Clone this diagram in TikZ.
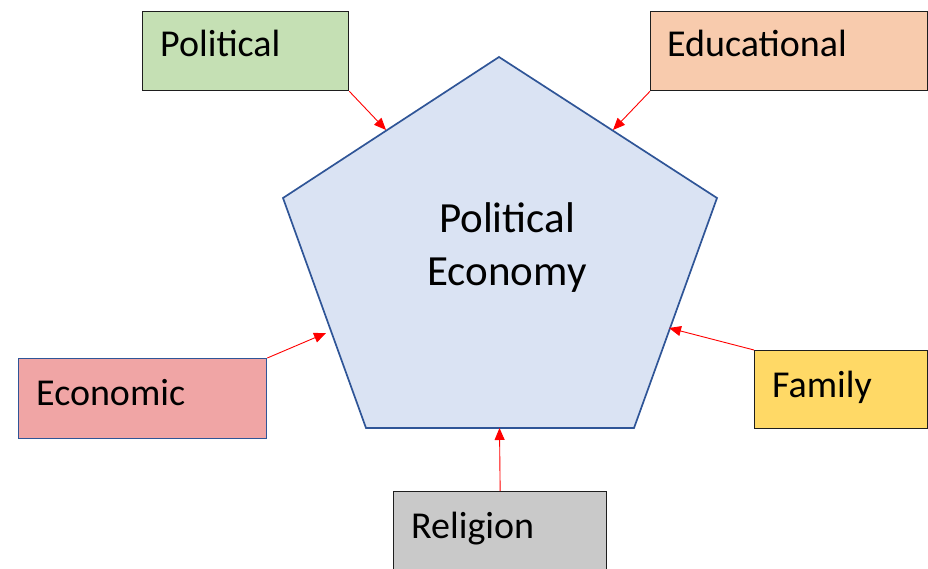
\documentclass[tikz,border=0pt]{standalone}
\usepackage{fontspec}
\setmainfont{Carlito}
\usetikzlibrary{arrows.meta}
\definecolor{pentfill}{HTML}{DAE3F3}
\definecolor{pentline}{HTML}{2F5597}
\definecolor{polfill}{HTML}{C5E0B4}
\definecolor{edufill}{HTML}{F8CBAD}
\definecolor{ecofill}{HTML}{F0A5A5}
\definecolor{famfill}{HTML}{FFD966}
\definecolor{relfill}{HTML}{C9C9C9}
\definecolor{boxline}{HTML}{1E1E1E}
\begin{document}
\begin{tikzpicture}[x=1pt,y=-1pt,
  boxstyle/.style={draw=boxline, line width=1.3pt, anchor=north west, inner sep=0pt, rectangle},
  lbl/.style={anchor=base west, inner sep=0pt, font=\fontsize{38}{46}\selectfont},
  arr/.style={draw=red, line width=0.9pt, -{Triangle[length=12pt,width=10pt]}}]
\useasboundingbox (0,0) rectangle (928,569);
\clip (0,0) rectangle (928,569);
% pentagon
\coordinate (pt) at (499,57);
\coordinate (pur) at (717,198);
\coordinate (plr) at (634,428);
\coordinate (pll) at (366,428);
\coordinate (pul) at (283,198);
\draw[fill=pentfill, draw=pentline, line width=1.7pt, line join=miter]
  (pt) -- (pur) -- (plr) -- (pll) -- (pul) -- cycle;
\node[align=center, inner sep=0pt, font=\fontsize{43}{53}\selectfont] (pe) at (507,248) {Political\\Economy};
% arrow targets on the pentagon edges
\coordinate (tpol) at (386,130);
\coordinate (tedu) at (613,130);
\coordinate (teco) at (326,333);
\coordinate (tfam) at (669,328);
\coordinate (trel) at (499.5,428);
% boxes
\node[boxstyle, fill=polfill, minimum width=206pt, minimum height=79pt] (pol) at (142,11) {};
\node[lbl] (polt) at (160,57) {Political};
\node[boxstyle, fill=edufill, minimum width=277pt, minimum height=79pt] (edu) at (650,11) {};
\node[lbl] (edut) at (667,57) {Educational};
\node[boxstyle, draw=pentline, fill=ecofill, minimum width=248pt, minimum height=80pt] (eco) at (18,358) {};
\node[lbl] (ecot) at (36,405) {Economic};
\node[boxstyle, fill=famfill, minimum width=173pt, minimum height=78pt] (fam) at (754,350) {};
\node[lbl] (famt) at (772,397) {Family};
\node[boxstyle, fill=relfill, minimum width=213pt, minimum height=85pt] (rel) at (393,491) {};
\node[lbl] (relt) at (411,538) {Religion};
% connectors
\draw[arr] (pol.south east) -- (tpol);
\draw[arr] (edu.south west) -- (tedu);
\draw[arr] (eco.north east) -- (teco);
\draw[arr] (fam.north west) -- (tfam);
\draw[arr] (rel.north) -- (trel);
\end{tikzpicture}
\end{document}
